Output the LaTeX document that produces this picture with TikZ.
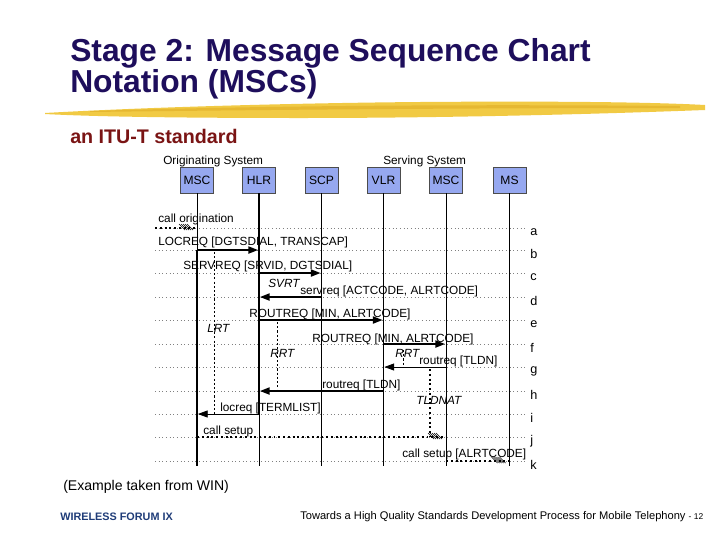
\documentclass[tikz,border=0pt]{standalone}
\usepackage{fontspec}
\setmainfont{Liberation Sans}
\usepackage{tikz}
\usetikzlibrary{
  arrows.meta,
  calc
}
\definecolor{titlenavy}{HTML}{1E0E5C}
\definecolor{subred}{HTML}{7A1414}
\definecolor{entity}{RGB}{150,168,240}
\definecolor{brush}{HTML}{F0C530}
\definecolor{brushdark}{HTML}{DDA820}
\definecolor{footblue}{HTML}{1F3C78}

\begin{document}
\begin{tikzpicture}[
  x=0.025cm, y=-0.025cm,
  entitybox/.style={draw=black!70, fill=entity, minimum width=0.83cm, minimum height=0.65cm,
                    inner sep=0pt, font=\fontsize{8.6}{10}\selectfont},
  lbl/.style={anchor=west, inner sep=0pt, font=\fontsize{8.4}{10}\selectfont},
  tmr/.style={lbl, font=\fontsize{8.4}{10}\selectfont\itshape},
  row/.style={gray, dotted, line width=0.6pt},
  life/.style={line width=0.5pt},
  lifethick/.style={line width=1.4pt},
  msg/.style={line width=1.4pt, -{Triangle[length=7pt,width=5pt]}, shorten >=0.6pt},
  msgthin/.style={line width=0.6pt, -{Triangle[length=7pt,width=5pt]}, shorten >=0.6pt},
  timer/.style={line width=0.6pt, dash pattern=on 1.5pt off 1.5pt},
  signal/.style={line width=1.4pt, dotted},
  hatch/.pic={\foreach \d in {0,2,4,6,8} \draw[line width=0.5pt] (-\d-10,-4) -- (-\d-4,2);},
]
  \useasboundingbox[fill=white] (0,0) rectangle (720,540);

  % title and brush stroke
  \node[anchor=base west, inner sep=0pt, text=titlenavy, font=\fontsize{22.6}{26}\selectfont\bfseries]
    (titlea) at (70,61) {Stage 2: Message Sequence Chart};
  \node[anchor=base west, inner sep=0pt, text=titlenavy, font=\fontsize{22.6}{26}\selectfont\bfseries]
    (titleb) at (70,92) {Notation (MSCs)};
  \fill[brush, opacity=0.9] (45,113) .. controls (150,107) and (300,103) .. (420,102)
    .. controls (550,101) and (650,102) .. (705,105) -- (705,110)
    .. controls (600,114) and (450,118) .. (300,118) .. controls (200,118) and (100,117) .. (45,114) -- cycle;
  \fill[brushdark, opacity=0.5] (90,111) .. controls (250,106) and (450,104) .. (680,106)
    -- (680,108) .. controls (450,108) and (250,110) .. (90,112) -- cycle;
  \node[anchor=base west, inner sep=0pt, text=subred, font=\fontsize{14}{16}\selectfont\bfseries]
    (std) at (70,143) {an ITU-T standard};

  % entities
  \node[lbl] (orig) at (163,161) {Originating System};
  \node[lbl] (serv) at (383,161) {Serving System};
  \node[entitybox] (msca) at (197,180) {MSC};
  \node[entitybox] (hlr) at (259,180) {HLR};
  \node[entitybox] (scp) at (321.5,180) {SCP};
  \node[entitybox] (vlr) at (383.5,180) {VLR};
  \node[entitybox] (mscb) at (446,180) {MSC};
  \node[entitybox] (ms) at (509.5,180) {MS};

  % event rows
  \foreach \n/\y in {a/228,b/250,c/273,d/297,e/320,f/344,g/367,h/391,i/414,j/437,k/461} {
    \coordinate (r\n) at (155,\y);
    \coordinate (q\n) at (527,\y);
    \draw[row] (r\n) -- (q\n);
    \node[lbl, font=\fontsize{9}{10}\selectfont] (l\n) at (530,\y+4) {\n};
  }
  \coordinate (rend) at (155,466);

  % lifelines
  \draw[life] (msca) -- (msca |- rb);
  \draw[lifethick] (msca |- rb) -- (msca |- rend);
  \draw[lifethick] (hlr) -- (hlr |- ri);
  \draw[life] (hlr |- ri) -- (hlr |- rend);
  \draw[life] (scp) -- (scp |- rend);
  \draw[lifethick] (vlr) -- (vlr |- rend);
  \draw[life] (mscb) -- (mscb |- rend);
  \draw[life] (ms) -- (ms |- rb);
  \draw[lifethick] (ms |- rb) -- (ms |- rend);

  % messages
  \draw[signal] (ra) -- (msca |- ra);
  \pic at (msca |- ra) {hatch};
  \node[lbl] (corig) at (158,219) {call origination};

  \draw[msg] (msca |- rb) -- (hlr |- rb);
  \node[lbl] (locreq) at (158,242) {LOCREQ [DGTSDIAL, TRANSCAP]};
  \draw[msg] (hlr |- rc) -- (scp |- rc);
  \node[lbl] (servreq) at (183,266) {SERVREQ [SRVID, DGTSDIAL]};
  \node[tmr] (svrt) at (268,283) {SVRT};
  \draw[msg] (scp |- rd) -- (hlr |- rd);
  \node[lbl] (servres) at (300,291) {servreq [ACTCODE, ALRTCODE]};
  \draw[msg] (hlr |- re) -- (vlr |- re);
  \node[lbl] (routa) at (249,314) {ROUTREQ [MIN, ALRTCODE]};
  \draw[msg] (vlr |- rf) -- (mscb |- rf);
  \node[lbl] (routb) at (312,339) {ROUTREQ [MIN, ALRTCODE]};
  \draw[msgthin] (mscb |- rg) -- (vlr |- rg);
  \node[lbl] (resa) at (419,361) {routreq [TLDN]};
  \draw[msg] (vlr |- rh) -- (hlr |- rh);
  \node[lbl] (resb) at (322,385) {routreq [TLDN]};
  \draw[msgthin] (hlr |- ri) -- (msca |- ri);
  \node[lbl] (locres) at (220,408) {locreq [TERMLIST]};

  \draw[signal, line width=1pt] (msca |- rj) -- (mscb |- rj);
  \pic at (mscb |- rj) {hatch};
  \node[lbl] (setupa) at (203,431) {call setup};
  \draw[signal] (mscb |- rk) -- (ms |- rk);
  \pic at (ms |- rk) {hatch};
  \node[lbl] (setupb) at (402,454) {call setup [ALRTCODE]};

  % timers
  \coordinate (lrttop) at (214,252);
  \coordinate (rrttop) at (277,322);
  \coordinate (rrtatop) at (403,350);
  \coordinate (tldntop) at (430,369);
  \draw[timer] (lrttop) -- (lrttop |- ri);
  \draw[timer] (rrttop) -- (rrttop |- rh);
  \draw[timer] (rrtatop) -- (rrtatop |- rg);
  \draw[signal, line width=1.2pt] (tldntop) -- (tldntop |- rj);
  \node[tmr] (lrt) at (207,328) {LRT};
  \node[tmr] (rrta) at (270,353) {RRT};
  \node[tmr] (rrtb) at (395,353) {RRT};
  \node[tmr] (tldnat) at (416,400) {TLDNAT};

  % footer
  \node[lbl, font=\fontsize{10}{12}\selectfont] (src) at (63,487) {(Example taken from WIN)};
  \node[lbl, text=footblue, font=\fontsize{7.7}{9}\selectfont\bfseries] (forum) at (60,517) {WIRELESS FORUM IX};
  \node[lbl, font=\fontsize{7.9}{9}\selectfont] (paper) at (300,517)
    {Towards a High Quality Standards Development Process for Mobile Telephony {\fontsize{6}{7}\selectfont - 12}};
\end{tikzpicture}
\end{document}
